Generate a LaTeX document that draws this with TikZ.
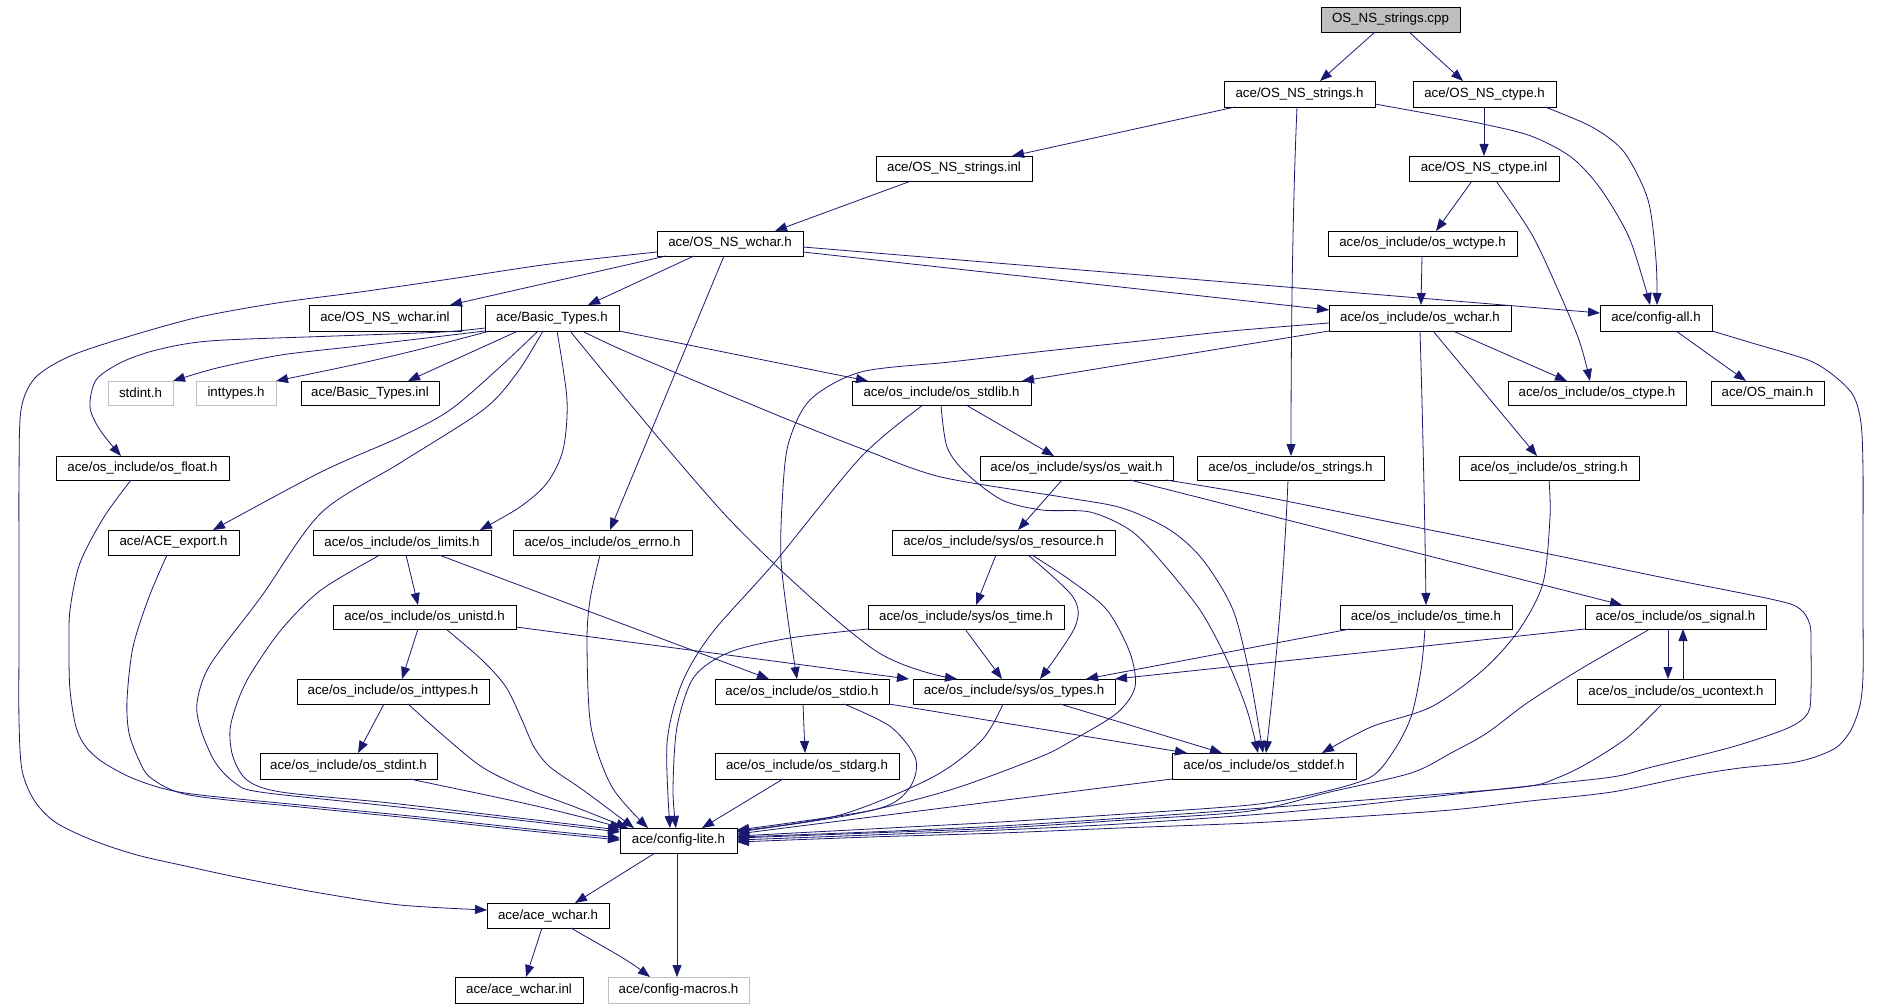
\documentclass[tikz,border=0pt]{standalone}
\usepackage{fontspec}
\setmainfont{Liberation Sans}
\usetikzlibrary{arrows.meta,calc}
\definecolor{edgeblue}{HTML}{191970}
\newcommand\fnt{\fontsize{13.3}{15}\selectfont}
\newcommand\mkbox[7][]{%
  \node[box,#1,minimum width={(#5-#3)*1pt},minimum height={(#6-#4)*1pt}] (#2) at ({(#3+#5)/2},{(#4+#6)/2}) {#7};}
\tikzset{
  box/.style={draw=black, line width=0.8pt, fill=white, inner sep=0pt, outer sep=0pt, font=\fnt},
  gbox/.style={draw=gray!50},
  root/.style={fill=gray!50},
  edge/.style={draw=edgeblue, line width=0.8pt, -{Triangle[length=12pt,width=9pt]}},
}
\begin{document}
\begin{tikzpicture}[x=1pt,y=-1pt]
\fill[white] (0,0) rectangle (1881,1008);
\useasboundingbox (0,0) rectangle (1881,1008);
% nodes
\mkbox[root]{cpp}{1321}{7}{1460}{32}{OS\_NS\_strings.cpp}
\mkbox{nsstrh}{1224}{81}{1375}{107}{ace/OS\_NS\_strings.h}
\mkbox{nsctypeh}{1413}{81}{1556}{107}{ace/OS\_NS\_ctype.h}
\mkbox{nsstrinl}{876}{156}{1032}{181}{ace/OS\_NS\_strings.inl}
\mkbox{nsctypeinl}{1409}{156}{1559}{181}{ace/OS\_NS\_ctype.inl}
\mkbox{nswcharh}{657}{231}{803}{256}{ace/OS\_NS\_wchar.h}
\mkbox{wctype}{1328}{231}{1517}{256}{ace/os\_include/os\_wctype.h}
\mkbox{nswcharinl}{309}{305}{461}{331}{ace/OS\_NS\_wchar.inl}
\mkbox{basic}{485}{305}{619}{331}{ace/Basic\_Types.h}
\mkbox{oswchar}{1329}{305}{1511}{331}{ace/os\_include/os\_wchar.h}
\mkbox{configall}{1600}{305}{1712}{331}{ace/config-all.h}
\mkbox[gbox]{stdint}{108}{381}{173}{405}{stdint.h}
\mkbox[gbox]{inttypes}{196}{381}{276}{405}{inttypes.h}
\mkbox{basicinl}{301}{381}{439}{405}{ace/Basic\_Types.inl}
\mkbox{stdlib}{852}{381}{1031}{405}{ace/os\_include/os\_stdlib.h}
\mkbox{osctype}{1508}{381}{1686}{405}{ace/os\_include/os\_ctype.h}
\mkbox{osmain}{1711}{381}{1824}{405}{ace/OS\_main.h}
\mkbox{float}{56}{456}{229}{480}{ace/os\_include/os\_float.h}
\mkbox{wait}{980}{456}{1173}{480}{ace/os\_include/sys/os\_wait.h}
\mkbox{strings}{1197}{456}{1384}{480}{ace/os\_include/os\_strings.h}
\mkbox{string}{1459}{456}{1639}{480}{ace/os\_include/os\_string.h}
\mkbox{aceexport}{108}{530}{239}{555}{ace/ACE\_export.h}
\mkbox{limits}{313}{530}{491}{555}{ace/os\_include/os\_limits.h}
\mkbox{errno}{513}{530}{692}{555}{ace/os\_include/os\_errno.h}
\mkbox{resource}{892}{530}{1115}{555}{ace/os\_include/sys/os\_resource.h}
\mkbox{unistd}{333}{605}{516}{629}{ace/os\_include/os\_unistd.h}
\mkbox{systime}{868}{605}{1064}{629}{ace/os\_include/sys/os\_time.h}
\mkbox{ostime}{1340}{605}{1512}{629}{ace/os\_include/os\_time.h}
\mkbox{signal}{1585}{605}{1766}{629}{ace/os\_include/os\_signal.h}
\mkbox{inttypesh}{297}{679}{489}{704}{ace/os\_include/os\_inttypes.h}
\mkbox{stdio}{715}{679}{889}{704}{ace/os\_include/os\_stdio.h}
\mkbox{types}{913}{679}{1115}{704}{ace/os\_include/sys/os\_types.h}
\mkbox{ucontext}{1577}{679}{1775}{704}{ace/os\_include/os\_ucontext.h}
\mkbox{stdinth}{260}{753}{437}{779}{ace/os\_include/os\_stdint.h}
\mkbox{stdarg}{715}{753}{899}{779}{ace/os\_include/os\_stdarg.h}
\mkbox{stddef}{1172}{753}{1356}{779}{ace/os\_include/os\_stddef.h}
\mkbox{lite}{620}{828}{737}{853}{ace/config-lite.h}
\mkbox{acewchar}{487}{903}{609}{928}{ace/ace\_wchar.h}
\mkbox{acewcharinl}{455}{977}{583}{1003}{ace/ace\_wchar.inl}
\mkbox[gbox]{macros}{608}{977}{749}{1003}{ace/config-macros.h}
% edges: top
\draw[edge] (cpp.south -| 1375,0) -- (nsstrh.north -| 1320,0);
\draw[edge] (cpp.south -| 1409,0) -- (nsctypeh.north -| 1463,0);
\draw[edge] (nsstrh.south -| 1235,0) -- (nsstrinl.north -| 1012,0);
\draw[edge] (nsstrh.south -| 1297,0) .. controls (1292,220) and (1291,360) .. (strings.north -| 1291,0);
\draw[edge] plot[smooth] coordinates {(nsstrh.east |- 0,104) (1430,114) (1483,124) (1531,136) (1571,157) (1600,188) (1628,235) (1644,283) (configall.north -| 1650,0)};
\draw[edge] (nsctypeh.south -| 1484,0) -- (nsctypeinl.north -| 1484,0);
\draw[edge] plot[smooth] coordinates {(nsctypeh.south -| 1545,0) (1592,127) (1624,152) (1648,200) (1656,260) (configall.north -| 1657,0)};
\draw[edge] (nsstrinl.south -| 911,0) -- (nswcharh.north -| 775,0);
\draw[edge] (nsctypeinl.south -| 1472,0) -- (wctype.north -| 1436,0);
\draw[edge] plot[smooth] coordinates {(nsctypeinl.south -| 1496,0) (1531,233) (1555,283) (1579,340) (osctype.north -| 1590,0)};
\draw[edge] (wctype.south -| 1422,0) -- (oswchar.north -| 1421,0);
% OS_NS_wchar.h
\draw[edge] (nswcharh.south -| 666,0) -- (nswcharinl.north -| 450,0);
\draw[edge] (nswcharh.south -| 694,0) -- (basic.north -| 588,0);
\draw[edge] (nswcharh.south -| 724,0) -- (errno.north -| 610,0);
\draw[edge] (nswcharh.east |- 0,252) -- (oswchar.west |- 0,310);
\draw[edge] (nswcharh.east |- 0,247) -- (configall.west |- 0,313);
\draw[edge] plot[smooth] coordinates {(nswcharh.west |- 0,252) (550,264) (450,279) (360,292) (277,303) (195,318) (117,340) (68,357) (35,378) (21,410) (19,480) (19,560) (19,640) (19,720) (22,770) (34,800) (55,822) (92,840) (137,855) (190,867) (241,878) (320,893) (400,905) (acewchar.west |- 0,910)};
% config-all
\draw[edge] (configall.south -| 1676,0) -- (osmain.north -| 1746,0);
\draw[edge] plot[smooth] coordinates {(configall.south east) (1752,343) (1808,360) (1833,375) (1853,395) (1861,423) (1863,470) (1863,540) (1863,610) (1863,675) (1860,705) (1851,730) (1837,747) (1815,757) (1790,763) (1740,768) (1690,776) (1612,792) (1530,801) (1451,810) (1350,817) (1250,823) (1120,828) (1000,833) (870,837) (lite.east |- 0,842)};
% os_wchar.h
\draw[edge] (oswchar.south west) -- (stdlib.north -| 1022,0);
\draw[edge] (oswchar.south -| 1453,0) -- (osctype.north -| 1567,0);
\draw[edge] (oswchar.south -| 1433,0) -- (string.north -| 1537,0);
\draw[edge] (oswchar.south -| 1420,0) .. controls (1423,430) and (1425,530) .. (ostime.north -| 1426,0);
\draw[edge] plot[smooth] coordinates {(oswchar.west |- 0,323) (1231,331) (1140,341) (1046,351) (950,362) (861,372) (810,400) (788,445) (782,505) (781,560) (788,620) (stdio.north -| 797,0)};
% Basic_Types.h
\draw[edge] plot[smooth] coordinates {(basic.south west) (418,339) (350,347) (281,355) (217,368) (stdint.north east)};
\draw[edge] plot[smooth] coordinates {(basic.south -| 490,0) (425,348) (362,363) (inttypes.north east)};
\draw[edge] (basic.south -| 518,0) -- (basicinl.north -| 408,0);
\draw[edge] plot[smooth] coordinates {(basic.west |- 0,328) (442,332) (335,336) (225,340) (185,344) (149,352) (120,363) (96,380) (90,407) (100,430) (float.north -| 121,0)};
\draw[edge] plot[smooth] coordinates {(basic.south -| 538,0) (500,367) (450,410) (400,437) (321,472) (aceexport.north -| 213,0)};
\draw[edge] plot[smooth] coordinates {(basic.south -| 557,0) (567,400) (563,450) (547,483) (520,507) (limits.north -| 480,0)};
\draw[edge] (basic.south east) -- (stdlib.north -| 868,0);
\draw[edge] plot[smooth] coordinates {(basic.south -| 543,0) (517,373) (483,410) (400,463) (321,513) (261,597) (210,665) (197,703) (201,730) (215,762) (235,783) (260,792) (380,805) (500,818) (lite.west |- 0,832)};
\draw[edge] plot[smooth] coordinates {(basic.south -| 570,0) (730,520) (873,649) (types.north -| 957,0)};
\draw[edge] plot[smooth] coordinates {(basic.south -| 582,0) (620,349) (700,383) (789,420) (865,450) (941,477) (1062,497) (1122,508) (1170,530) (1203,560) (1233,610) (1250,677) (stddef.north -| 1263,0)};
% os_stdlib.h
\draw[edge] (stdlib.south -| 966,0) -- (wait.north -| 1054,0);
\draw[edge] plot[smooth] coordinates {(stdlib.south -| 941,0) (947,447) (966,473) (1002,500) (1042,510) (1090,512) (1130,530) (1160,560) (1200,610) (1227,660) (1247,710) (stddef.north -| 1258,0)};
\draw[edge] plot[smooth] coordinates {(stdlib.south -| 923,0) (861,457) (775,562) (712,633) (682,683) (667,743) (lite.north -| 670,0)};
% os_wait.h
\draw[edge] (wait.south -| 1062,0) -- (resource.north -| 1018,0);
\draw[edge] (wait.south -| 1130,0) -- (signal.north -| 1622,0);
\draw[edge] plot[smooth] coordinates {(wait.south -| 1166,0) (1250,494) (1380,520) (1520,548) (1660,577) (1775,600) (1800,609) (1810,625) (1811,650) (1811,690) (1808,713) (1788,728) (1732,747) (1652,767) (1612,777) (1520,787) (1430,797) (1340,807) (1250,815) (1120,824) (1000,830) (870,835) (lite.east |- 0,840)};
% os_resource.h
\draw[edge] (resource.south -| 996,0) -- (systime.north -| 976,0);
\draw[edge] plot[smooth] coordinates {(resource.south -| 1028,0) (1073,597) (1075,627) (types.north -| 1040,0)};
\draw[edge] plot[smooth] coordinates {(resource.south -| 1032,0) (1070,580) (1107,610) (1130,653) (1135,687) (1117,713) (1073,740) (1040,757) (950,790) (850,815) (lite.east |- 0,832)};
% sys/os_time.h
\draw[edge] (systime.south -| 965,0) -- (types.north -| 1002,0);
\draw[edge] plot[smooth] coordinates {(systime.south west) (790,638) (730,652) (694,677) (677,727) (673,790) (lite.north -| 676,0)};
% os_unistd.h
\draw[edge] (unistd.south -| 418,0) -- (inttypesh.north -| 402,0);
\draw[edge] (unistd.east |- 0,627) -- (types.north -| 909,0);
\draw[edge] plot[smooth] coordinates {(unistd.south -| 446,0) (482,660) (506,687) (522,720) (534,747) (550,767) (583,790) (lite.north -| 634,0)};
% os_limits.h
\draw[edge] (limits.south -| 406,0) -- (unistd.north -| 418,0);
\draw[edge] (limits.south -| 439,0) -- (stdio.north -| 769,0);
\draw[edge] plot[smooth] coordinates {(limits.south -| 380,0) (321,590) (281,630) (250,675) (237,703) (230,730) (233,757) (247,780) (281,792) (390,803) (510,817) (lite.west |- 0,830)};
% os_inttypes.h / os_stdint.h
\draw[edge] (inttypesh.south -| 384,0) -- (stdinth.north -| 358,0);
\draw[edge] plot[smooth] coordinates {(inttypesh.south -| 408,0) (445,737) (482,767) (522,787) (575,807) (lite.north -| 628,0)};
\draw[edge] (stdinth.south -| 410,0) .. controls (470,792) and (540,805) .. (lite.north -| 622,0);
% os_float.h / ACE_export.h / os_errno.h
\draw[edge] plot[smooth] coordinates {(float.south -| 131,0) (104,517) (80,563) (70,610) (69,650) (70,690) (76,727) (86,747) (104,763) (137,780) (185,793) (300,805) (420,817) (530,829) (lite.west |- 0,838)};
\draw[edge] plot[smooth] coordinates {(aceexport.south -| 167,0) (149,597) (133,647) (127,700) (129,733) (139,760) (151,778) (189,795) (300,807) (420,819) (530,831) (lite.west |- 0,840)};
\draw[edge] plot[smooth] coordinates {(errno.south -| 600,0) (590,600) (587,643) (591,727) (612,787) (lite.north -| 648,0)};
% os_stdio.h
\draw[edge] (stdio.south -| 803,0) -- (stdarg.north -| 805,0);
\draw[edge] plot[smooth] coordinates {(stdio.south -| 844,0) (891,727) (916,760) (908,790) (873,810) (lite.east |- 0,830)};
\draw[edge] (stdio.south east) -- (stddef.north -| 1187,0);
% sys/os_types.h
\draw[edge] (types.south -| 1060,0) -- (stddef.north -| 1222,0);
\draw[edge] plot[smooth] coordinates {(types.south -| 1003,0) (982,740) (933,777) (840,815) (lite.east |- 0,831)};
% os_stdarg.h / os_stddef.h
\draw[edge] (stdarg.south -| 783,0) -- (lite.north -| 702,0);
\draw[edge] (stddef.south west) -- (lite.east |- 0,834);
% os_time.h
\draw[edge] (ostime.south -| 1350,0) -- (types.north -| 1086,0);
\draw[edge] plot[smooth] coordinates {(ostime.south -| 1425,0) (1421,670) (1411,717) (1393,752) (1369,778) (1310,795) (1250,805) (1125,814) (1000,822) (870,829) (lite.east |- 0,836)};
% os_signal.h / os_ucontext.h
\draw[edge] (signal.south west) -- (types.north east);
\draw[edge] (signal.south -| 1668,0) -- (ucontext.north -| 1668,0);
\draw[edge] (ucontext.north -| 1683,0) -- (signal.south -| 1683,0);
\draw[edge] plot[smooth] coordinates {(signal.south -| 1650,0) (1579,670) (1527,703) (1487,733) (1451,753) (1411,773) (1330,792) (1250,811) (1125,820) (1000,828) (870,833) (lite.east |- 0,838)};
\draw[edge] plot[smooth] coordinates {(ucontext.south -| 1662,0) (1628,737) (1588,763) (1557,778) (1523,787) (1390,798) (1250,809) (1125,818) (1000,826) (870,832) (lite.east |- 0,837)};
% os_string.h / os_strings.h
\draw[edge] plot[smooth] coordinates {(string.south -| 1549,0) (1550,517) (1543,583) (1519,630) (1483,670) (1431,707) (1371,727) (stddef.north -| 1322,0)};
\draw[edge] (strings.south -| 1288,0) .. controls (1283,600) and (1272,700) .. (stddef.north -| 1266,0);
% config-lite.h / ace_wchar.h
\draw[edge] (lite.south -| 655,0) -- (acewchar.north -| 575,0);
\draw[edge] (lite.south -| 677,0) -- (macros.north -| 677,0);
\draw[edge] (acewchar.south -| 542,0) -- (acewcharinl.north -| 526,0);
\draw[edge] (acewchar.south -| 571,0) .. controls (600,945) and (625,958) .. (macros.north -| 650,0);
\end{tikzpicture}
\end{document}
